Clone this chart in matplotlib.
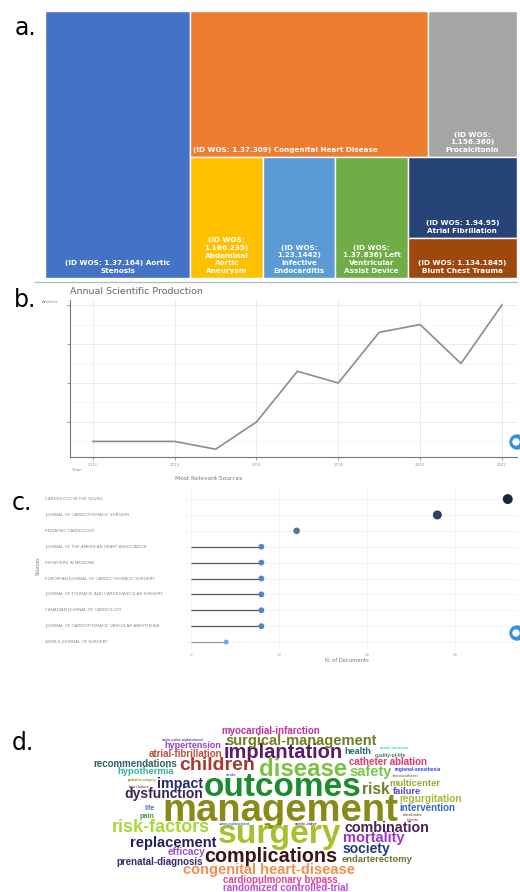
import matplotlib
matplotlib.use('Agg')
import numpy as np
import matplotlib.pyplot as plt
from matplotlib.patches import Rectangle, Circle
from matplotlib.lines import Line2D
from matplotlib.colors import LinearSegmentedColormap, Normalize
import matplotlib.transforms as mtransforms

plt.rcParams['font.family'] = ['DejaVu Sans']

W, H = 520, 892

# ---- a. treemap of topic clusters
topic_labels = [
    '(ID WOS: 1.37.164) Aortic\nStenosis',
    '(ID WOS: 1.37.309) Congenital Heart Disease',
    '(ID WOS:\n1.156.360)\nProcalcitonin',
    '(ID WOS:\n1.166.235)\nAbdominal\nAortic\nAneurysm',
    '(ID WOS:\n1.23.1442)\nInfective\nEndocarditis',
    '(ID WOS:\n1.37.836) Left\nVentricular\nAssist Device',
    '(ID WOS: 1.94.95)\nAtrial Fibrillation',
    '(ID WOS: 1.134.1845)\nBlunt Chest Trauma',
]
topic_docs = [387, 346, 130, 88, 87, 87, 88, 44]
topic_colors = ['#4472C4', '#ED7D31', '#A5A5A5', '#FFC000',
                '#5B9BD5', '#70AD47', '#264478', '#9E480E']

# ---- b. annual scientific production
years = list(range(2012, 2023))
articles = [5, 5, 5, 3, 10, 23, 20, 33, 35, 25, 40]

# ---- c. most relevant sources
sources = [
    'CARDIOLOGY IN THE YOUNG',
    'JOURNAL OF CARDIOTHORACIC SURGERY',
    'PEDIATRIC CARDIOLOGY',
    'JOURNAL OF THE AMERICAN HEART ASSOCIATION',
    'FRONTIERS IN MEDICINE',
    'EUROPEAN JOURNAL OF CARDIO-THORACIC SURGERY',
    'JOURNAL OF THORACIC AND CARDIOVASCULAR SURGERY',
    'CANADIAN JOURNAL OF CARDIOLOGY',
    'JOURNAL OF CARDIOTHORACIC VASCULAR ANESTHESIA',
    'WORLD JOURNAL OF SURGERY',
]
source_docs = [36, 28, 12, 8, 8, 8, 8, 8, 8, 4]

# ---- d. keyword cloud
words = ['management', 'surgery', 'outcomes', 'disease', 'implantation',
         'complications', 'children', 'risk-factors', 'risk',
         'surgical-management', 'replacement', 'mortality',
         'congenital heart-disease', 'safety', 'impact', 'combination',
         'dysfunction', 'society', 'efficacy', 'regurgitation',
         'recommendations', 'randomized controlled-trial',
         'prenatal-diagnosis', 'myocardial-infarction', 'atrial-fibrillation',
         'catheter ablation', 'intervention', 'cardiopulmonary bypass',
         'multicenter', 'endarterectomy', 'hypothermia', 'failure',
         'hypertension', 'health', 'pain', 'life', 'quality-of-life',
         'regional-anesthesia', 'aortic-stenosis', 'transcatheter',
         'aortic-valve-replacement', 'pediatric-surgery', 'heart-failure',
         'stroke', 'mitral-valve', 'infants', 'valve-replacement',
         'aortic-valve']
word_freq = [110, 97, 96, 69, 58, 57, 56, 52, 45, 42, 42, 42, 42, 42, 41, 41,
             40, 40, 29, 29, 28, 28, 28, 28, 28, 28, 28, 28, 27, 27, 27, 27,
             26, 26, 21, 20, 14, 14, 12, 12, 10, 10, 10, 10, 10, 10, 10, 12]

# layout / styles ------------------------------------------------------------
word_colors = ['#8a8a18', '#a8c030', '#1e8c2e', '#7cc142', '#5b1a6e',
               '#3a1414', '#a63a2e', '#a8d838', '#6f7f2a', '#6e7f20',
               '#22225e', '#a030d0', '#f0904a', '#78c848', '#2a2a78',
               '#4a2258', '#3a2458', '#1e3c78', '#a050d0', '#a8b830',
               '#2f6360', '#c048e0', '#3a2878', '#c8309a', '#c0503c',
               '#e0386a', '#3a68d0', '#e8408a', '#8fae2e', '#6b7a30',
               '#2cb5a0', '#5a48d8', '#9a3fd0', '#2a6868', '#40a040',
               '#3a78d8', '#4a7070', '#3048e0', '#40d0c8', '#808080',
               '#4a4ab0', '#8a9a2a', '#607060', '#4060d0', '#a06030',
               '#c04060', '#3a58c8', '#6040a0']
word_xy = [(280, 811), (280, 834), (283, 788), (303, 769), (283, 753),
           (271, 856), (217, 766), (161, 827), (376, 789), (301, 741),
           (173, 843), (374, 838), (269, 870), (371, 772), (180, 784),
           (387, 828), (164, 794), (366, 849), (186, 852), (431, 799),
           (135, 764), (286, 888), (160, 862), (271, 731), (186, 754),
           (388, 762), (427, 808), (280, 880), (415, 783), (377, 859),
           (146, 772), (407, 792), (193, 745), (358, 751), (147, 817),
           (150, 808), (390, 756), (418, 770), (395, 748), (406, 776),
           (183, 740), (142, 780), (139, 787), (231, 775), (413, 815),
           (413, 820), (235, 824), (306, 824)]


def box(x0, y0, x1, y1):
    return [x0 / W, 1 - y1 / H, (x1 - x0) / W, (y1 - y0) / H]


def total(node):
    if isinstance(node, int):
        return topic_docs[node]
    return sum(total(c) for c in node[1])


def layout(node, x, y, w, h, out):
    if isinstance(node, int):
        out[node] = (x, y, w, h)
        return
    tot = total(node)
    for ch in node[1]:
        f = total(ch) / tot
        if node[0] == 'h':
            layout(ch, x, y, w * f, h, out)
            x += w * f
        else:
            layout(ch, x, y, w, h * f, out)
            y += h * f


fig = plt.figure(figsize=(W / 100, H / 100), dpi=100)

# ---------------- a. treemap
axa = fig.add_axes(box(45, 11, 517, 278))
axa.set_xlim(0, 1)
axa.set_ylim(1, 0)
axa.axis('off')
tree = ('h', [0, ('v', [('h', [1, 2]), ('h', [3, 4, 5, ('v', [6, 7])])])])
rects = {}
layout(tree, 0, 0, 1, 1, rects)
for i in range(len(topic_docs)):
    x, y, w, h = rects[i]
    axa.add_patch(Rectangle((x, y), w, h, facecolor=topic_colors[i],
                            edgecolor='white', lw=1.0))
    if i == 1:
        tx, ha = x + 3 / 472, 'left'
    else:
        tx, ha = x + w / 2, 'center'
    axa.text(tx, y + h - 4 / 267, topic_labels[i], color='white',
             fontsize=5.2, fontweight='bold', ha=ha, va='bottom',
             multialignment='center', linespacing=1.35)

# ---------------- b. annual production
axb = fig.add_axes(box(70, 300, 517, 457))
axb.plot(years, articles, color='#8c8c8c', lw=1.2)
axb.set_xlim(2011.44, 2022.37)
axb.set_ylim(1.0, 41.3)
axb.set_xticks(years[::2])
axb.set_xticklabels([str(y) for y in years[::2]], fontsize=2.8, color='#999999')
axb.set_yticks([10, 20, 30, 40])
axb.set_yticks([5, 15, 25, 35], minor=True)
axb.set_yticklabels([])
axb.grid(which='major', color='#e8e8e8', lw=0.6)
axb.grid(which='minor', axis='y', color='#f3f3f3', lw=0.5)
axb.set_axisbelow(True)
for s in ['top', 'right']:
    axb.spines[s].set_visible(False)
for s in ['left', 'bottom']:
    axb.spines[s].set_color('#777777')
    axb.spines[s].set_linewidth(0.8)
axb.tick_params(which='major', length=2.5, width=0.5, color='#777777', pad=1.5)
axb.tick_params(which='minor', length=0)

# ---------------- c. most relevant sources
axc = fig.add_axes(box(185, 490, 517, 650))
rows = np.arange(len(sources))
stem_colors = ['#f2f2f2'] * 3 + ['#555555'] * 6 + ['#9a9a9a']
axc.hlines(rows, 0, source_docs, colors=stem_colors, lw=0.9, zorder=2)
cmap = LinearSegmentedColormap.from_list(
    'src', [(0, '#6aaae8'), (0.15, '#4b7fb4'), (0.3, '#55708f'), (1, '#132b43')])
axc.scatter(source_docs, rows, s=[8 + 1.2 * v for v in source_docs],
            c=source_docs, cmap=cmap, norm=Normalize(4, 36), zorder=3,
            edgecolors='none')
axc.set_ylim(9.5, -0.57)
axc.set_xlim(-0.68, 37.05)
axc.set_xticks([0, 10, 20, 30])
axc.set_xticklabels(['0', '10', '20', '30'], fontsize=3, color='#aaaaaa')
axc.set_yticks(rows)
axc.set_yticklabels([])
axc.tick_params(length=0, pad=2)
axc.grid(color='#eeeeee', lw=0.5)
axc.set_axisbelow(True)
for s in axc.spines.values():
    s.set_visible(False)
trans = mtransforms.blended_transform_factory(fig.transFigure, axc.transData)
for i, name in enumerate(sources):
    fig.text(45 / W, i, name, transform=trans, fontsize=3, color='#888888',
             ha='left', va='center')

# ---------------- overlay for free text and the word cloud
ov = fig.add_axes([0, 0, 1, 1])
ov.set_xlim(0, W)
ov.set_ylim(H, 0)
ov.axis('off')
ov.patch.set_alpha(0)

for lab, x, y in [('a.', 15, 35), ('b.', 14, 307), ('c.', 12, 510), ('d.', 12, 750)]:
    ov.text(x, y, lab, fontsize=17, color='black', ha='left', va='baseline')

ov.add_line(Line2D([35, 517], [282, 282], color='#b4bcc4', lw=1.0))
ov.text(70, 292, 'Annual Scientific Production', fontsize=6.8, color='#666666',
        ha='left', va='center')
ov.text(42, 302, 'Articles', fontsize=3.2, color='#888888', ha='left', va='center')
ov.text(72, 470, 'Year', fontsize=3.2, color='#888888', ha='left', va='center')
ov.text(175, 478, 'Most Relevant Sources', fontsize=4.2, color='#777777',
        ha='left', va='center')
ov.text(347, 660, 'N. of Documents', fontsize=3.8, color='#777777',
        ha='center', va='center')
ov.text(38, 566, 'Sources', fontsize=3.4, color='#777777', rotation=90,
        ha='center', va='center')

for cy in (442, 633):
    ov.add_patch(Circle((517, cy), 7, color='#3b8fd4', zorder=5))
    ov.add_patch(Circle((516, cy), 3, color='white', zorder=6))

for w, f, c, (x, y) in zip(words, word_freq, word_colors, word_xy):
    ov.text(x, y, w, fontsize=0.25 * f, color=c, fontweight='bold',
            family=['Liberation Sans', 'DejaVu Sans'], ha='center', va='center')

fig.savefig('out.png', dpi=100)
